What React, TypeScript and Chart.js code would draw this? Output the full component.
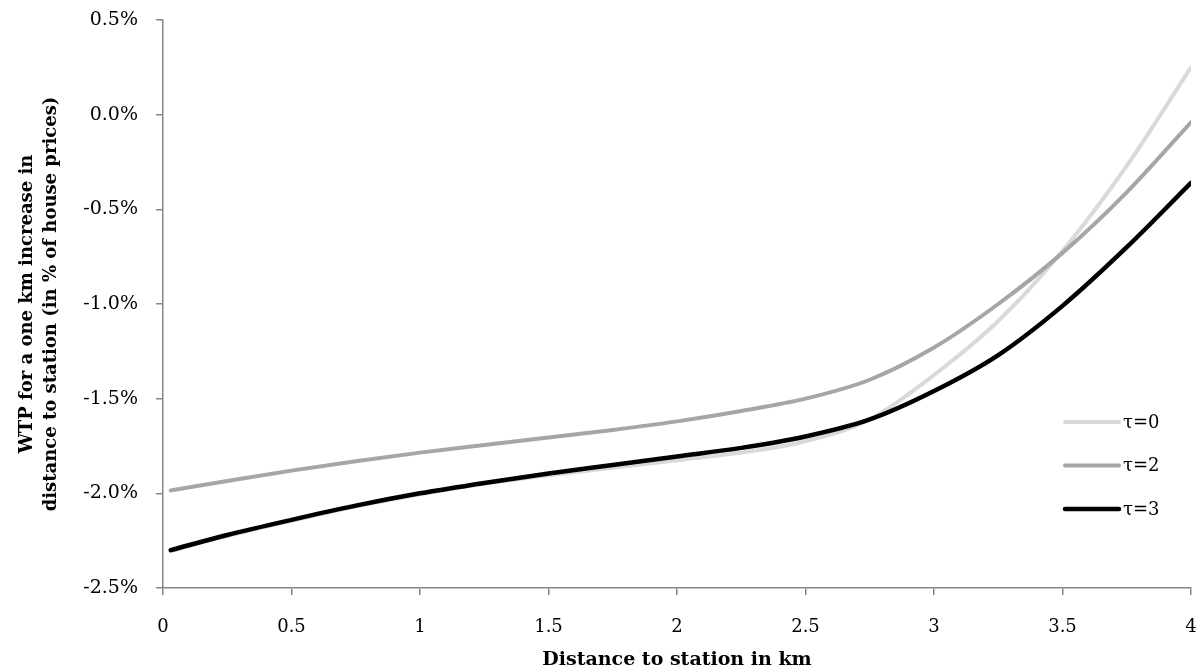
import React, { useEffect, useRef } from "react";
import { Chart, registerables } from "chart.js";

Chart.register(...registerables);

const distances = [0.03, 0.25, 0.5, 0.75, 1, 1.25, 1.5, 1.75, 2, 2.25, 2.5, 2.75, 3, 3.25, 3.5, 3.75, 4];
const tau0 = [-2.305, -2.225, -2.145, -2.07, -2.005, -1.95, -1.905, -1.865, -1.825, -1.785, -1.725, -1.61, -1.375, -1.09, -0.72, -0.27, 0.25];
const tau2 = [-1.985, -1.935, -1.88, -1.83, -1.785, -1.745, -1.705, -1.665, -1.62, -1.565, -1.5, -1.4, -1.23, -1.0, -0.73, -0.41, -0.04];
const tau3 = [-2.3, -2.22, -2.14, -2.065, -2.0, -1.945, -1.895, -1.85, -1.805, -1.76, -1.7, -1.61, -1.46, -1.27, -1.01, -0.7, -0.36];
const seriesLabels = ["τ=0", "τ=2", "τ=3"];
const seriesColors = ["#D9D9D9", "#A6A6A6", "#000000"];
const xTitle = "Distance to station in km";
const yTitle = ["WTP for a one km increase in", "distance to station (in % of house prices)"];

const FONT = "'DejaVu Serif', 'Liberation Serif', serif";

const legendPlugin = {
  id: "customLegend",
  afterDraw(chart: any) {
    const ctx = chart.ctx;
    const area = chart.chartArea;
    const items = [0, 1, 2];
    const x0 = area.right - 126;
    const x1 = area.right - 72;
    const yStart = 422;
    const gap = 43.5;
    ctx.save();
    items.forEach((i, k) => {
      const y = yStart + k * gap;
      ctx.beginPath();
      ctx.strokeStyle = seriesColors[i];
      ctx.lineWidth = i === 2 ? 4.5 : 4;
      ctx.lineCap = "round";
      ctx.moveTo(x0, y);
      ctx.lineTo(x1, y);
      ctx.stroke();
      ctx.fillStyle = "#000";
      ctx.font = `18px ${FONT}`;
      ctx.textBaseline = "middle";
      ctx.textAlign = "left";
      ctx.fillText(seriesLabels[i], x1 + 4, y + 1);
    });
    ctx.restore();
  },
};

export default function App() {
  const ref = useRef<HTMLCanvasElement | null>(null);
  useEffect(() => {
    if (!ref.current) return;
    const mk = (vals: number[]) => distances.map((d, i) => ({ x: d, y: vals[i] }));
    const ds = (i: number, vals: number[], w: number) => ({
      label: seriesLabels[i],
      data: mk(vals),
      borderColor: seriesColors[i],
      borderWidth: w,
      pointRadius: 0,
      cubicInterpolationMode: "monotone" as const,
      borderCapStyle: "round" as const,
      fill: false,
    });
    const chart = new Chart(ref.current, {
      type: "line",
      data: {
        datasets: [ds(2, tau3, 4.5), ds(1, tau2, 4), ds(0, tau0, 4)],
      },
      options: {
        responsive: false,
        animation: false,
        layout: { padding: 0 },
        plugins: { legend: { display: false }, tooltip: { enabled: false } },
        scales: {
          x: {
            type: "linear",
            min: 0,
            max: 4,
            ticks: {
              stepSize: 0.5,
              padding: 22,
              color: "#000",
              font: { family: FONT, size: 18 },
              maxRotation: 0,
              callback: (v: any) => String(Number(v)),
            },
            grid: { drawOnChartArea: false, drawTicks: true, tickLength: 7, color: "#868686", lineWidth: 1.5 },
            border: { display: true, color: "#868686", width: 1.5 },
            title: {
              display: true,
              text: xTitle,
              color: "#000",
              font: { family: FONT, size: 19, weight: "bold" },
              padding: { top: 0, bottom: 1 },
            },
            afterFit: (s: any) => {
              s.height = 84;
              s.paddingLeft = 0;
              s.paddingRight = 10;
            },
          },
          y: {
            type: "linear",
            min: -2.5,
            max: 0.5,
            ticks: {
              stepSize: 0.5,
              padding: 18,
              color: "#000",
              font: { family: FONT, size: 19 },
              callback: (v: any) => Number(v).toFixed(1) + "%",
            },
            grid: { drawOnChartArea: false, drawTicks: true, tickLength: 7, color: "#868686", lineWidth: 1.5 },
            border: { display: true, color: "#868686", width: 1.5 },
            title: {
              display: true,
              text: yTitle,
              color: "#000",
              font: { family: FONT, size: 18, weight: "bold", lineHeight: 1.3 },
              padding: { top: 16, bottom: 0 },
            },
            afterFit: (s: any) => {
              s.width = 163;
              s.paddingTop = 20;
              s.paddingBottom = 0;
            },
          },
        },
      },
      plugins: [legendPlugin],
    });
    return () => chart.destroy();
  }, []);
  return (
    <div style={{ position: "fixed", left: 0, top: 0, width: 1201, height: 672, background: "#fff" }}>
      <canvas ref={ref} width={1201} height={672} />
    </div>
  );
}
